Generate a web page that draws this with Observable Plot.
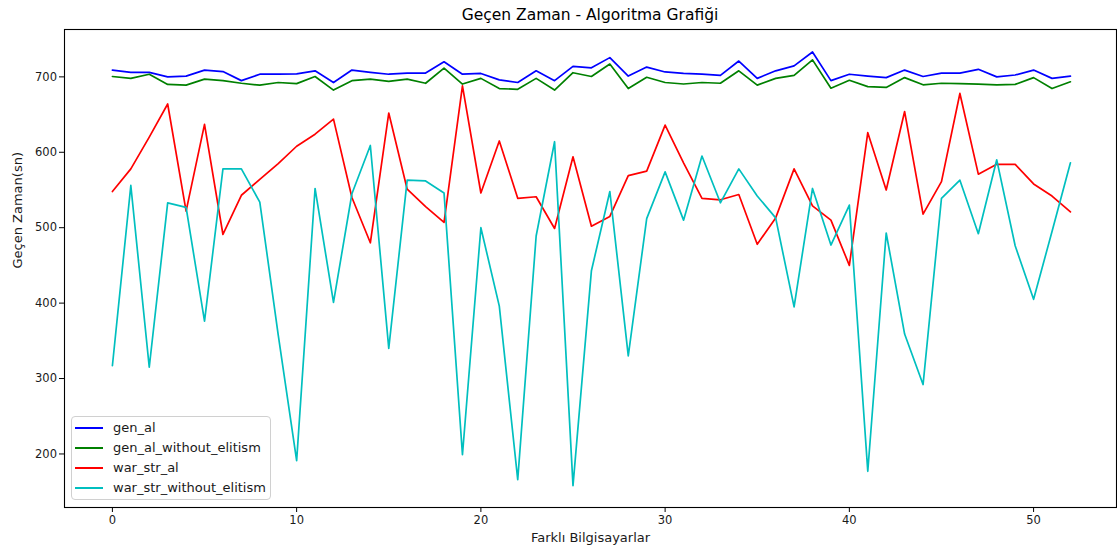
<!DOCTYPE html>
<html>
<head>
<meta charset="utf-8">
<script src="https://cdn.jsdelivr.net/npm/d3@7"></script>
<script src="https://cdn.jsdelivr.net/npm/@observablehq/plot@0.6"></script>
<style>
  body { margin: 0; background: #fff; font-family: "DejaVu Sans", sans-serif; }
  #wrap { position: relative; width: 1117px; height: 552px; overflow: hidden; }
  #chart { position: absolute; left: 0; top: 0; }
  #title { position: absolute; left: 64px; width: 1052px; top: 0; height: 30px; line-height: 30px;
           text-align: center; font-size: 15.5px; color: #000; white-space: nowrap; }
  #legend { position: absolute; left: 71px; top: 416px; width: 200px; height: 84px; box-sizing: border-box;
            border: 1px solid #d0d0d0; border-radius: 4px; background: rgba(255,255,255,0.85); }
  .row { position: absolute; left: 0; height: 20px; width: 100%; }
  .sw { position: absolute; left: 3px; top: 9px; width: 28px; height: 2px; }
  .lb { position: absolute; left: 41px; top: 0; line-height: 20px; font-size: 13px; color: #1a1a1a; white-space: nowrap; }
</style>
</head>
<body>
<div id="wrap">
  <div id="chart"></div>
  <div id="title">Geçen Zaman - Algoritma Grafiği</div>
  <div id="legend"></div>
</div>
<script>
const seriesNames = ["gen_al", "gen_al_without_elitism", "war_str_al", "war_str_without_elitism"];
const seriesColors = ["#0000ff", "#008000", "#ff0000", "#00bfbf"];

const genAl = [709, 706, 706, 700, 701, 709, 707, 695, 703.5, 703.5, 704, 708, 692.5, 709, 706, 703.5, 705,
  705, 720, 703.5, 704.5, 696, 692.5, 708, 695, 714, 712, 725.5, 701, 713, 706.5, 704.5, 703.5, 702, 721,
  698, 708, 714.5, 733, 695, 703.5, 701, 699, 709, 700.5, 705, 705, 710, 700, 702.5, 709, 698, 701];

const genAlWithoutElitism = [700.5, 698, 703.5, 690, 689, 697, 695, 691.5, 689, 692.5, 691, 700.5, 682.5, 695,
  697, 694, 697, 691.5, 711.5, 690.5, 698, 684.5, 683.5, 698, 682.5, 705.5, 700.5, 717, 684.5, 699.5, 692.5,
  690.5, 692.5, 691.5, 708, 689, 698, 702, 722.5, 685, 695.5, 687, 686, 699, 689.5, 691.5, 691, 690.5, 689.5,
  690, 699, 684.5, 693.5];

const warStrAl = [548, 578, 620, 664, 522, 637, 491, 543, 564, 585, 608, 624, 644, 540, 480, 652, 551, 528, 507,
  688, 546, 615, 539, 541, 499, 594, 502, 515, 569, 575, 636, 586, 539, 537, 544, 478, 513, 578, 529, 510, 450,
  626, 550, 654, 518, 561, 678, 571, 584, 584, 558, 542, 521];

const warStrWithoutElitism = [317, 556, 315, 533, 527, 376, 578, 578, 534, 358, 191, 552, 401, 545, 609, 340,
  563, 562, 546, 199, 500, 396, 166, 489, 614, 158, 443, 548, 330, 512, 574, 510, 595, 533, 578, 542, 513, 395,
  552, 477, 530, 177, 493, 359, 292, 539, 563, 492, 590, 476, 405, 495, 586];

const xTicks = [0, 10, 20, 30, 40, 50];
const yTicks = [200, 300, 400, 500, 600, 700];

const allSeries = [genAl, genAlWithoutElitism, warStrAl, warStrWithoutElitism];
const data = allSeries.flatMap((vals, s) => vals.map((v, i) => ({ x: i, y: v, series: seriesNames[s] })));

const chart = Plot.plot({
  width: 1117,
  height: 552,
  marginTop: 29,
  marginBottom: 45,
  marginLeft: 64,
  marginRight: 1,
  style: { fontFamily: '"DejaVu Sans", sans-serif', fontSize: "11.5px", color: "#1a1a1a", background: "#fff", overflow: "visible" },
  x: { domain: [-2.6, 54.5] },
  y: { domain: [129, 762.8] },
  color: { domain: seriesNames, range: seriesColors },
  marks: [
    Plot.axisX({ ticks: xTicks, tickSize: 5, tickPadding: 3, label: null, stroke: "#000" }),
    Plot.axisY({ ticks: yTicks, tickSize: 5, tickPadding: 2.5, label: null, stroke: "#000" }),
    Plot.lineY(data, { x: "x", y: "y", z: "series", stroke: "series", strokeWidth: 1.7, curve: "linear" }),
    Plot.frame({ stroke: "#000", strokeWidth: 1.1 }),
    Plot.text(["Farklı Bilgisayarlar"], { frameAnchor: "bottom", dy: 34, fontSize: 13, fill: "#1a1a1a" }),
    Plot.text(["Geçen Zaman(sn)"], { frameAnchor: "left", dx: -47, rotate: -90, fontSize: 13, fill: "#1a1a1a" })
  ]
});
document.getElementById("chart").appendChild(chart);

const legend = document.getElementById("legend");
seriesNames.forEach((name, k) => {
  const row = document.createElement("div");
  row.className = "row";
  row.style.top = (1 + 20 * k) + "px";
  const sw = document.createElement("div");
  sw.className = "sw";
  sw.style.background = seriesColors[k];
  const lb = document.createElement("div");
  lb.className = "lb";
  lb.textContent = name;
  row.appendChild(sw);
  row.appendChild(lb);
  legend.appendChild(row);
});
</script>
</body>
</html>
